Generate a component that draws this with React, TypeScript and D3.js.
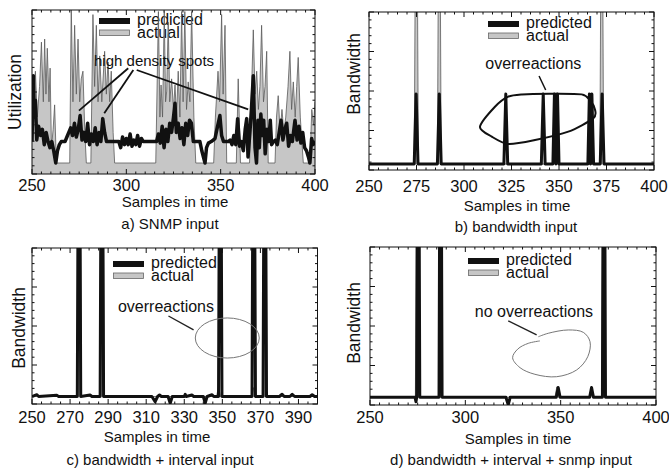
import * as d3 from "d3";

type Pt = [number, number];

// tick labels of the four panels
const xTicksA = [250, 300, 350, 400];
const xTicksB = [250, 275, 300, 325, 350, 375, 400];
const xTicksC = [250, 270, 290, 310, 330, 350, 370, 390];
const xTicksD = [250, 300, 350, 400];

// a) SNMP input – utilization, 0 = lowest actual level, 100 = frame top
const snmpActual: Pt[] = [
  [250, 40], [251, 45], [251.8, 60], [252.8, 30], [254, 50], [255, 79], [256, 40], [256.7, 81],
  [257.4, 45], [258.1, 75], [259, 40], [259.6, 62], [260.3, 10], [261.2, 22], [262, 38], [262.9, 0],
  [270, 0], [270.8, 103], [271.7, 40], [272.6, 90], [273.5, 45], [274.4, 81], [275.3, 40], [276.1, 55],
  [277, 60], [278, 20], [278.8, 0], [281.2, 0], [282.3, 97], [283.2, 50], [284.1, 90], [285, 40],
  [285.9, 70], [287, 40], [288.5, 73], [289.4, 45], [290.3, 66], [291.2, 40], [292, 60], [293, 20],
  [293.8, 0], [315.6, 0], [317, 99], [317.8, 30], [318.4, 51], [319.2, 30], [320.1, 99], [320.8, 40],
  [321.4, 47], [322.2, 92], [323, 40], [324, 55], [325, 35], [325.8, 51], [326.6, 30], [327.5, 60],
  [328.4, 30], [329.3, 99], [330.1, 40], [331, 99], [331.9, 35], [332.8, 53], [333.7, 40], [334.6, 99],
  [335.8, 30], [336.8, 0], [346.3, 0], [347.2, 30], [348.6, 60], [349.4, 40], [350.5, 97], [351.3, 45],
  [352.3, 90], [353.2, 0], [358.3, 0], [359.3, 55], [360.5, 0], [365.3, 0], [366.3, 45], [367.3, 87],
  [368.2, 45], [369.1, 60], [370, 35], [370.8, 50], [371.7, 90], [372.7, 40], [373.5, 50], [374.4, 73],
  [375.2, 0], [378.8, 0], [379.6, 30], [380.5, 44], [381.5, 20], [382.5, 35], [383.5, 20], [384.5, 30],
  [385.7, 50], [386.7, 73], [387.6, 35], [388.5, 53], [389.5, 30], [390.3, 50], [391.1, 69], [392.2, 30],
  [393.8, 0], [397.3, 0], [398.3, 35], [399.2, 25], [400, 40],
];
const snmpPredicted: Pt[] = [
  [250, 14], [250.7, 57], [251.3, 30], [251.8, 41], [252.5, 15], [253.5, 24], [254.5, 18], [255.5, 22],
  [256.5, 12], [257.5, 20], [258.5, 14], [259.5, 10], [260.5, 14], [261.5, 8], [262.6, 0], [263.5, 8],
  [264.5, 12], [265.5, 14], [267.5, 14], [268.5, 17], [269.5, 20], [270.5, 23], [271.5, 18], [272.5, 26],
  [273.5, 17], [274.5, 22], [275.5, 31], [276.5, 15], [277.5, 20], [278.5, 14], [279.5, 26], [280.5, 12],
  [281.5, 19], [282.5, 14], [283.5, 23], [284.5, 12], [285.5, 20], [286.5, 14], [287.5, 29], [288.5, 20],
  [289.5, 14], [296, 14], [297, 10], [298, 17], [299, 12], [300, 16], [301, 12], [302, 19], [303, 11],
  [304, 15], [305, 12], [306, 18], [307, 11], [308, 16], [309, 14], [316, 14], [317, 19], [318, 13],
  [319, 24], [320, 10], [321, 22], [322, 14], [323, 26], [324, 20], [325, 30], [325.8, 39], [326.5, 20],
  [327.5, 26], [328.5, 16], [329.5, 23], [330.5, 12], [331.5, 26], [332.5, 18], [333.5, 28], [334.5, 26],
  [335.5, 14], [339, 14], [340, 8], [341.7, 0], [342.5, 10], [343.5, 13], [345, 14], [347, 16], [348, 22],
  [349.6, 31], [350.5, 18], [351.5, 14], [354, 14], [355, 15], [356, 12], [357, 18], [358, 12], [359, 29],
  [360, 11], [361, 14], [362, 8], [363, 22], [363.8, 29], [364.5, 4], [365.5, 20], [366.3, 35], [367.3, 57],
  [368.2, 10], [369, 0], [369.8, 28], [370.5, 10], [371.3, 32], [372, 18], [372.8, 28], [373.6, 6],
  [374.5, 22], [375.5, 14], [376.3, 28], [377, 12], [378, 14], [379, 15], [380, 12], [381, 20], [382, 28],
  [383, 15], [384, 22], [385, 26], [386, 11], [387, 18], [388, 14], [389.4, 28], [390.5, 15], [391.5, 24],
  [392.5, 13], [393.5, 20], [394.5, 10], [395.5, 8], [396.5, 4], [397.3, 0], [398.2, 16], [399, 12], [400, 14],
];

// b), c), d) – bandwidth, same actual trace in all three
const bwActual: Pt[] = [
  [250, 0], [273.8, 0], [274.9, 260], [276, 0], [286, 0], [287, 260], [288, 0], [347, 0], [348, 7],
  [349, 0], [365.5, 0], [366.3, 6], [367.2, 0], [371.5, 0], [372.5, 260], [373.5, 0], [400, 0],
];
const bwPredicted: Pt[] = [
  [250, 0], [273.8, 0], [274.8, 46], [275.8, 0], [286, 0], [287, 46], [288, 0], [321, 0], [322, 46],
  [323, 0], [340.7, 0], [341.7, 46], [342.7, 0], [346.8, 0], [347.6, 46], [348.4, 0], [349.2, 46],
  [350, 0], [365.2, 0], [366, 46], [366.6, 0], [367.3, 46], [368.2, 0], [371.7, 0], [372.7, 46],
  [373.7, 0], [400, 0],
];
const bwIntPredicted: Pt[] = [
  [250, 0], [252.5, 1.2], [253.5, 0], [263, 0.8], [264, 0], [273.8, 0], [274.7, 300], [275.6, 0],
  [280.5, 1], [281.5, 0], [285.8, 0], [286.7, 300], [287.6, 0], [313, 0], [314.7, -3.5], [316, 0],
  [317, 1], [318, 0], [321.5, 0], [322.6, -4.5], [323.7, 0], [330, 0], [330.5, 1.5], [331, 0], [334, 1],
  [335, 0], [340, 0], [341, -4.5], [342, 0], [344.6, 1.2], [345.5, 0], [348, 0], [348.9, 300], [349.8, 0],
  [365.6, 0], [366.5, 300], [367.4, 0], [371.4, 0], [372.3, 300], [373.2, 0], [380, 0], [381.4, 1.5],
  [382.5, 0], [385.5, 0], [386.7, 1.5], [388, 0], [396, 0], [397.2, 1.2], [398.5, 0], [400, 0],
];
const bwIntSnmpPredicted: Pt[] = [
  [250, 0], [273.6, 0], [274.1, -3], [274.5, 0], [275.3, 300], [276.1, 0], [286.2, 0], [287, 300],
  [287.8, 0], [321.3, 0], [322.5, -5], [323.5, 0], [347.7, 0], [348.7, 6.5], [349.7, 0], [365.2, 0],
  [366.2, 6.5], [367.2, 0], [371.9, 0], [372.7, 300], [373.5, 0], [400, 0],
];

// annotations, in data units
const notesALines: [Pt, Pt][] = [
  [[301, 61.9], [274.9, 34.2]],
  [[303.7, 60.8], [288.3, 32.5]],
  [[305.5, 60.8], [364.6, 35.1]],
];
const ovalB: Pt[] = [
  [308.4, 24.5], [316.3, 37.7], [323.3, 44.3], [330.4, 45.8], [345, 46.2], [361.9, 45.8], [366.3, 42],
  [369, 35.5], [368, 30], [354.9, 21.3], [337.4, 15.8], [323.3, 13.2], [314.6, 18],
];
const loopD: Pt[] = [
  [338.3, 40.3], [343.5, 42.6], [354, 44.8], [361.9, 43.2], [365.4, 37], [364.2, 27], [358.4, 18.2],
  [347.9, 13.7], [336.5, 15.3], [328.7, 19.7], [324.8, 26.3], [327.5, 32.1], [333, 35.9], [339.1, 37.5],
];

const FONT = "'Liberation Sans', Arial, Helvetica, sans-serif";

type Frame = { l: number; r: number; t: number; b: number };
type Spec = {
  key: string;
  frame: Frame;
  zeroY: number;
  xTicks: number[];
  actual: Pt[];
  predicted: Pt[];
  predWidth: number;
  fillToBottom: boolean;
  yLabel: string;
  yLabelPos: [number, number];
  tickY: number;
  title: [number, number];
  caption: string;
  captionPos: [number, number];
  legend: [number, number];
};

const specs: Spec[] = [
  {
    key: "a", frame: { l: 32, r: 315, t: 10, b: 174 }, zeroY: 163, xTicks: xTicksA,
    actual: snmpActual, predicted: snmpPredicted, predWidth: 3.5, fillToBottom: true,
    yLabel: "Utilization", yLabelPos: [21, 92], tickY: 191, title: [175, 207],
    caption: "a) SNMP input", captionPos: [170, 229], legend: [99, 18],
  },
  {
    key: "b", frame: { l: 369, r: 654, t: 12, b: 170 }, zeroY: 164, xTicks: xTicksB,
    actual: bwActual, predicted: bwPredicted, predWidth: 3, fillToBottom: false,
    yLabel: "Bandwidth", yLabelPos: [360, 74], tickY: 192, title: [517, 210.5],
    caption: "b) bandwidth input", captionPos: [516, 232], legend: [488, 21],
  },
  {
    key: "c", frame: { l: 32, r: 317.5, t: 248, b: 404 }, zeroY: 396.5, xTicks: xTicksC,
    actual: bwActual, predicted: bwIntPredicted, predWidth: 3, fillToBottom: false,
    yLabel: "Bandwidth", yLabelPos: [25, 328], tickY: 423, title: [157, 442],
    caption: "c) bandwidth + interval input", captionPos: [160, 464.5], legend: [113, 261],
  },
  {
    key: "d", frame: { l: 370, r: 656, t: 247, b: 405 }, zeroY: 397.3, xTicks: xTicksD,
    actual: bwActual, predicted: bwIntSnmpPredicted, predWidth: 3, fillToBottom: false,
    yLabel: "Bandwidth", yLabelPos: [360, 323], tickY: 423, title: [518, 444],
    caption: "d) bandwidth + interval + snmp input", captionPos: [511, 465], legend: [468, 258],
  },
];

function Panel({ p }: { p: Spec }) {
  const f = p.frame;
  const x = d3.scaleLinear().domain([250, 400]).range([f.l, f.r]);
  const y = d3.scaleLinear().domain([0, 100]).range([p.zeroY, f.t]);
  const ty = d3.scaleLinear().domain([0, 20]).range([f.b, f.t]);
  const area = d3
    .area<Pt>()
    .x((d) => x(d[0]))
    .y0(p.fillToBottom ? f.b : y(0))
    .y1((d) => y(d[1]));
  const line = d3
    .line<Pt>()
    .x((d) => x(d[0]))
    .y((d) => y(d[1]));
  const clip = `clip-${p.key}`;
  const [lx, ly] = p.legend;

  const minorX = d3.range(250, 400.01, 5);
  const ticksY = d3.range(0, 21);

  let notes = null;
  if (p.key === "a") {
    notes = (
      <g>
        <text x={x(314.7)} y={y(63.6)} textAnchor="middle" fontSize={15}>high density spots</text>
        {notesALines.map((l, i) => (
          <path key={i} d={line(l) as string} stroke="#111" strokeWidth={1.8} fill="none" />
        ))}
      </g>
    );
  } else if (p.key === "b") {
    notes = (
      <g>
        <text x={x(336.5)} y={y(62.5)} textAnchor="middle" fontSize={16}>overreactions</text>
        <path d={line([[339.5, 57.9], [343, 48.7]]) as string} stroke="#111" strokeWidth={1.5} fill="none" />
        <path
          d={d3.line<Pt>().x((d) => x(d[0])).y((d) => y(d[1])).curve(d3.curveCardinalClosed.tension(0.2))(ovalB) as string}
          stroke="#111" strokeWidth={2} fill="none"
        />
      </g>
    );
  } else if (p.key === "c") {
    notes = (
      <g>
        <text x={x(320.4)} y={y(57.1)} textAnchor="middle" fontSize={16}>overreactions</text>
        <path d={line([[321.7, 54.2], [334.9, 44.8]]) as string} stroke="#222" strokeWidth={1.4} fill="none" />
        <ellipse cx={x(352.6)} cy={y(39.4)} rx={x(352.6 + 16.8) - x(352.6)} ry={y(0) - y(13.5)}
          stroke="#777" strokeWidth={1} fill="none" />
      </g>
    );
  } else {
    notes = (
      <g>
        <text x={x(336)} y={y(53.6)} textAnchor="middle" fontSize={16}>no overreactions</text>
        <path d={line([[322.5, 50.8], [337.4, 41.5]]) as string} stroke="#222" strokeWidth={1.4} fill="none" />
        <path
          d={d3.line<Pt>().x((d) => x(d[0])).y((d) => y(d[1])).curve(d3.curveCatmullRom)(loopD) as string}
          stroke="#777" strokeWidth={1} fill="none"
        />
      </g>
    );
  }

  return (
    <g fontFamily={FONT} fill="#111">
      <defs>
        <clipPath id={clip}>
          <rect x={f.l} y={f.t} width={f.r - f.l} height={f.b - f.t} />
        </clipPath>
      </defs>

      {/* legend */}
      <rect x={lx} y={ly} width={31} height={6} fill="#111" />
      <text x={lx + 38} y={ly + 6.5} fontSize={16}>predicted</text>
      <rect x={lx + 0.5} y={ly + 12} width={30} height={5.5} fill="#c6c6c6" stroke="#666" strokeWidth={0.8} />
      <text x={lx + 38} y={ly + 19.5} fontSize={16}>actual</text>

      <g clipPath={`url(#${clip})`}>
        <path d={area(p.actual) as string} fill="#c6c6c6" stroke="none" />
        <path d={line(p.actual) as string} fill="none" stroke="#5a5a5a" strokeWidth={0.8} />
        <path d={line(p.predicted) as string} fill="none" stroke="#111" strokeWidth={p.predWidth}
          strokeLinejoin="round" />
      </g>

      {notes}

      {/* frame and inward ticks */}
      <rect x={f.l} y={f.t} width={f.r - f.l} height={f.b - f.t} fill="none" stroke="#111" strokeWidth={1} />
      {minorX.map((v) => {
        const len = p.xTicks.includes(v) ? 5 : 2.5;
        return (
          <g key={`x${v}`} stroke="#111" strokeWidth={1}>
            <line x1={x(v)} x2={x(v)} y1={f.b} y2={f.b - len} />
            <line x1={x(v)} x2={x(v)} y1={f.t} y2={f.t + len} />
          </g>
        );
      })}
      {ticksY.map((v) => {
        const len = v % 5 === 0 ? 5 : 2.5;
        return (
          <g key={`y${v}`} stroke="#111" strokeWidth={1}>
            <line x1={f.l} x2={f.l + len} y1={ty(v)} y2={ty(v)} />
            <line x1={f.r} x2={f.r - len} y1={ty(v)} y2={ty(v)} />
          </g>
        );
      })}

      {p.xTicks.map((v) => (
        <text key={`l${v}`} x={x(v)} y={p.tickY} textAnchor="middle" fontSize={16.5}>{v}</text>
      ))}
      <text x={p.title[0]} y={p.title[1]} textAnchor="middle" fontSize={15}>Samples in time</text>
      <text x={p.captionPos[0]} y={p.captionPos[1]} textAnchor="middle" fontSize={15}>{p.caption}</text>
      <text
        transform={`translate(${p.yLabelPos[0]},${p.yLabelPos[1]}) rotate(-90)`}
        textAnchor="middle"
        fontSize={17.5}
      >
        {p.yLabel}
      </text>
    </g>
  );
}

export default function App() {
  return (
    <svg
      width={669}
      height={471}
      viewBox="0 0 669 471"
      style={{ position: "absolute", left: 0, top: 0, background: "#fff" }}
    >
      <rect width={669} height={471} fill="#fff" />
      {specs.map((p) => (
        <Panel key={p.key} p={p} />
      ))}
    </svg>
  );
}
